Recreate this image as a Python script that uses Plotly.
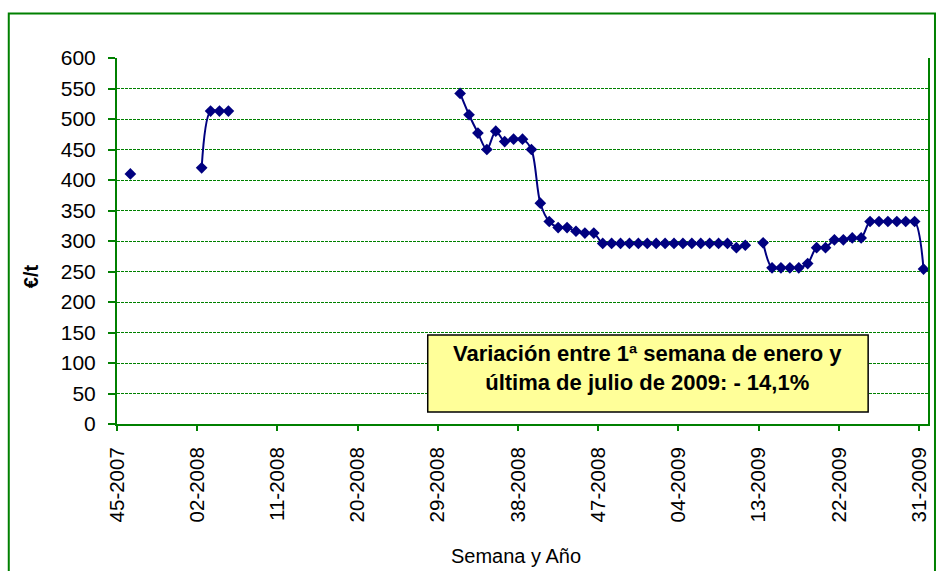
import plotly.graph_objects as go

# Categories: ISO weeks from 45-2007 to 31-2009
weeks = ([f"{w:02d}-2007" for w in range(45, 53)]
         + [f"{w:02d}-2008" for w in range(1, 53)]
         + [f"{w:02d}-2009" for w in range(1, 32)])

# Prices (€/t), keyed by week label
price_points = {
    "46-2007": 410,
    "02-2008": 420, "03-2008": 513, "04-2008": 513, "05-2008": 513,
    "31-2008": 542, "32-2008": 507, "33-2008": 477, "34-2008": 450,
    "35-2008": 480, "36-2008": 463, "37-2008": 467, "38-2008": 467,
    "39-2008": 450, "40-2008": 362, "41-2008": 332, "42-2008": 322,
    "43-2008": 322, "44-2008": 316, "45-2008": 313, "46-2008": 313,
    "47-2008": 296, "48-2008": 296, "49-2008": 296, "50-2008": 296,
    "51-2008": 296, "52-2008": 296, "01-2009": 296, "02-2009": 296,
    "03-2009": 296, "04-2009": 296, "05-2009": 296, "06-2009": 296,
    "07-2009": 296, "08-2009": 296, "09-2009": 296, "10-2009": 289,
    "11-2009": 293, "13-2009": 297, "14-2009": 256, "15-2009": 256,
    "16-2009": 256, "17-2009": 256, "18-2009": 263, "19-2009": 289,
    "20-2009": 289, "21-2009": 302, "22-2009": 302, "23-2009": 305,
    "24-2009": 305, "25-2009": 332, "26-2009": 332, "27-2009": 332,
    "28-2009": 332, "29-2009": 332, "30-2009": 332, "31-2009": 254,
}
prices = [price_points.get(w) for w in weeks]

tick_step = 9
tick_idx = list(range(0, len(weeks), tick_step))
tick_text = [weeks[i] for i in tick_idx]
y_ticks = list(range(0, 601, 50))

GREEN = "#008000"
NAVY = "#000080"

# categories sit between the tick marks (Excel "between categories")
x_pos = [i + 0.5 for i in range(len(weeks))]

fig = go.Figure()
fig.add_trace(go.Scatter(
    x=x_pos, y=prices, mode="lines+markers",
    line=dict(color=NAVY, width=2, shape="spline", smoothing=0.9),
    marker=dict(symbol="diamond", size=9, color=NAVY),
    connectgaps=False,
    customdata=weeks,
    hovertemplate="%{customdata}: %{y} €/t<extra></extra>",
))

L, R, T, B = 117, 9, 58, 147
W, H = 939, 571
pw, ph = W - L - R, H - T - B

def px(xp):
    return (xp - L) / pw

def py(yp):
    return (H - B - yp) / ph

fig.update_layout(
    width=W, height=H,
    margin=dict(l=L, r=R, t=T, b=B),
    plot_bgcolor="white", paper_bgcolor="white",
    showlegend=False,
    font=dict(family="Liberation Sans, Arial, sans-serif", color="black"),
    xaxis=dict(
        range=[0, len(weeks)],
        tickmode="array", tickvals=tick_idx, ticktext=tick_text,
        tickangle=-90, ticks="outside", ticklen=5, tickwidth=2, tickcolor=GREEN,
        showline=True, linecolor=GREEN, linewidth=2,
        showgrid=False, zeroline=False,
        tickfont=dict(size=20.5), ticklabelstandoff=8,
    ),
    yaxis=dict(
        range=[0, 600], tickmode="array", tickvals=y_ticks,
        ticks="outside", ticklen=7, tickwidth=2, tickcolor=GREEN,
        showline=True, linecolor=GREEN, linewidth=2, mirror=True,
        showgrid=True, gridcolor=GREEN, gridwidth=1.2, griddash="3px,1px",
        zeroline=False,
        tickfont=dict(size=21), ticklabelstandoff=8,
    ),
    shapes=[
        dict(type="rect", xref="paper", yref="paper",
             x0=px(8.5), x1=px(937), y0=py(590), y1=py(13.5),
             line=dict(color=GREEN, width=2), fillcolor="rgba(0,0,0,0)", layer="above"),
        dict(type="rect", xref="paper", yref="paper",
             x0=px(428.5), x1=px(870), y0=py(412), y1=py(335),
             line=dict(color="black", width=1.5), fillcolor="#FFFF99", layer="above"),
    ],
    annotations=[
        dict(text="<b>Variación entre 1ª semana de enero y<br>última de julio de 2009: - 14,1%</b>",
             xref="paper", yref="paper", x=px(649), y=py(367.5),
             xanchor="center", yanchor="middle", showarrow=False, align="center",
             font=dict(size=22, color="black")),
        dict(text="<b>€/t</b>", xref="paper", yref="paper", x=px(31), y=py(276),
             xanchor="center", yanchor="middle", showarrow=False, textangle=-90,
             font=dict(size=20, color="black")),
        dict(text="Semana y Año", xref="paper", yref="paper", x=px(517), y=py(556),
             xanchor="center", yanchor="middle", showarrow=False,
             font=dict(size=20, color="black")),
    ],
)

fig.write_html(
    "out.html",
    config={"displayModeBar": False},
    post_script="document.body.style.margin='0';document.body.style.padding='0';",
)
